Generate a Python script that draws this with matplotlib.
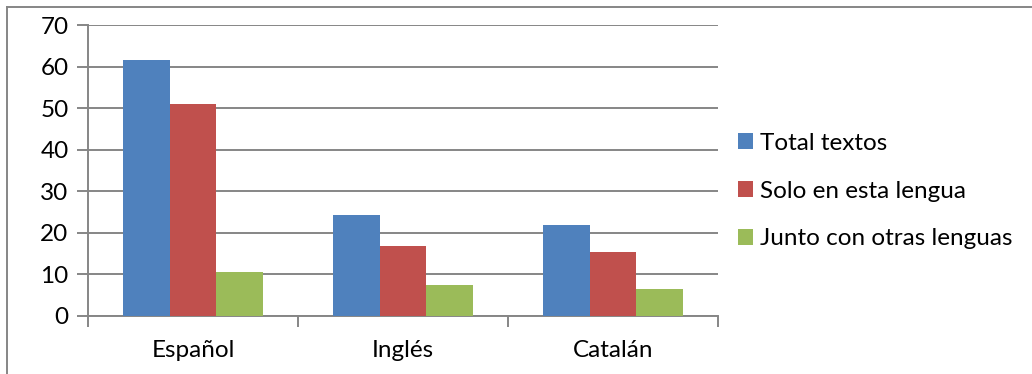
import numpy as np
import matplotlib
matplotlib.use("Agg")
import matplotlib.pyplot as plt
from matplotlib.patches import Patch
from matplotlib.lines import Line2D

plt.rcParams["font.family"] = ["Lato", "DejaVu Sans"]

# percentages of texts per language
languages = ["Español", "Inglés", "Catalán"]
series_names = ["Total textos", "Solo en esta lengua", "Junto con otras lenguas"]
total = [61.5, 24.4, 21.8]
solo = [50.9, 16.8, 15.3]
junto = [10.5, 7.4, 6.4]
colors = ["#4F81BD", "#C0504D", "#9BBB59"]
grid_gray = "#868686"
fsize = 17.5

fig = plt.figure(figsize=(10.32, 3.74), dpi=100)
ax = fig.add_axes([88 / 1032, (374 - 316) / 374, (718 - 88) / 1032, (316 - 25) / 374])

x = np.arange(len(languages))
width = 2 / 9
for i, (vals, col) in enumerate(zip([total, solo, junto], colors)):
    ax.bar(x + (i - 1) * width, vals, width, color=col, zorder=3)

ax.set_xlim(-0.5, 2.5)
ax.set_ylim(0, 70)
ax.set_yticks(range(0, 71, 10))
ax.yaxis.grid(True, color=grid_gray, linewidth=1.4, zorder=0)
ax.set_axisbelow(True)

# category labels centred under each group, tick marks between groups
ax.set_xticks(x)
ax.set_xticklabels(languages, fontsize=fsize)
ax.tick_params(axis="x", length=0, pad=17)
ax.set_xticks([-0.5, 0.5, 1.5, 2.5], minor=True)
ax.tick_params(axis="x", which="minor", length=8, width=1.4, color=grid_gray)
ax.tick_params(axis="y", length=8, width=1.4, color=grid_gray, labelsize=fsize, pad=6)

for side in ["top", "right"]:
    ax.spines[side].set_visible(False)
for side in ["left", "bottom"]:
    ax.spines[side].set_color(grid_gray)
    ax.spines[side].set_linewidth(1.4)

handles = [Patch(facecolor=c, edgecolor="none") for c in colors]
fig.legend(handles, series_names, loc="center left", bbox_to_anchor=(738 / 1032, (374 - 191) / 374),
           frameon=False, fontsize=fsize, handlelength=0.62, handleheight=0.62,
           handletextpad=0.3, labelspacing=1.1, borderpad=0, borderaxespad=0)

# chart frame along the top and left edge
fig.add_artist(Line2D([7 / 1032, 7 / 1032], [0, 1 - 6.5 / 374], transform=fig.transFigure,
                      color=grid_gray, linewidth=1.4))
fig.add_artist(Line2D([7 / 1032, 1], [1 - 6.5 / 374, 1 - 6.5 / 374], transform=fig.transFigure,
                      color=grid_gray, linewidth=1.4))

fig.savefig("out.png", dpi=100)
